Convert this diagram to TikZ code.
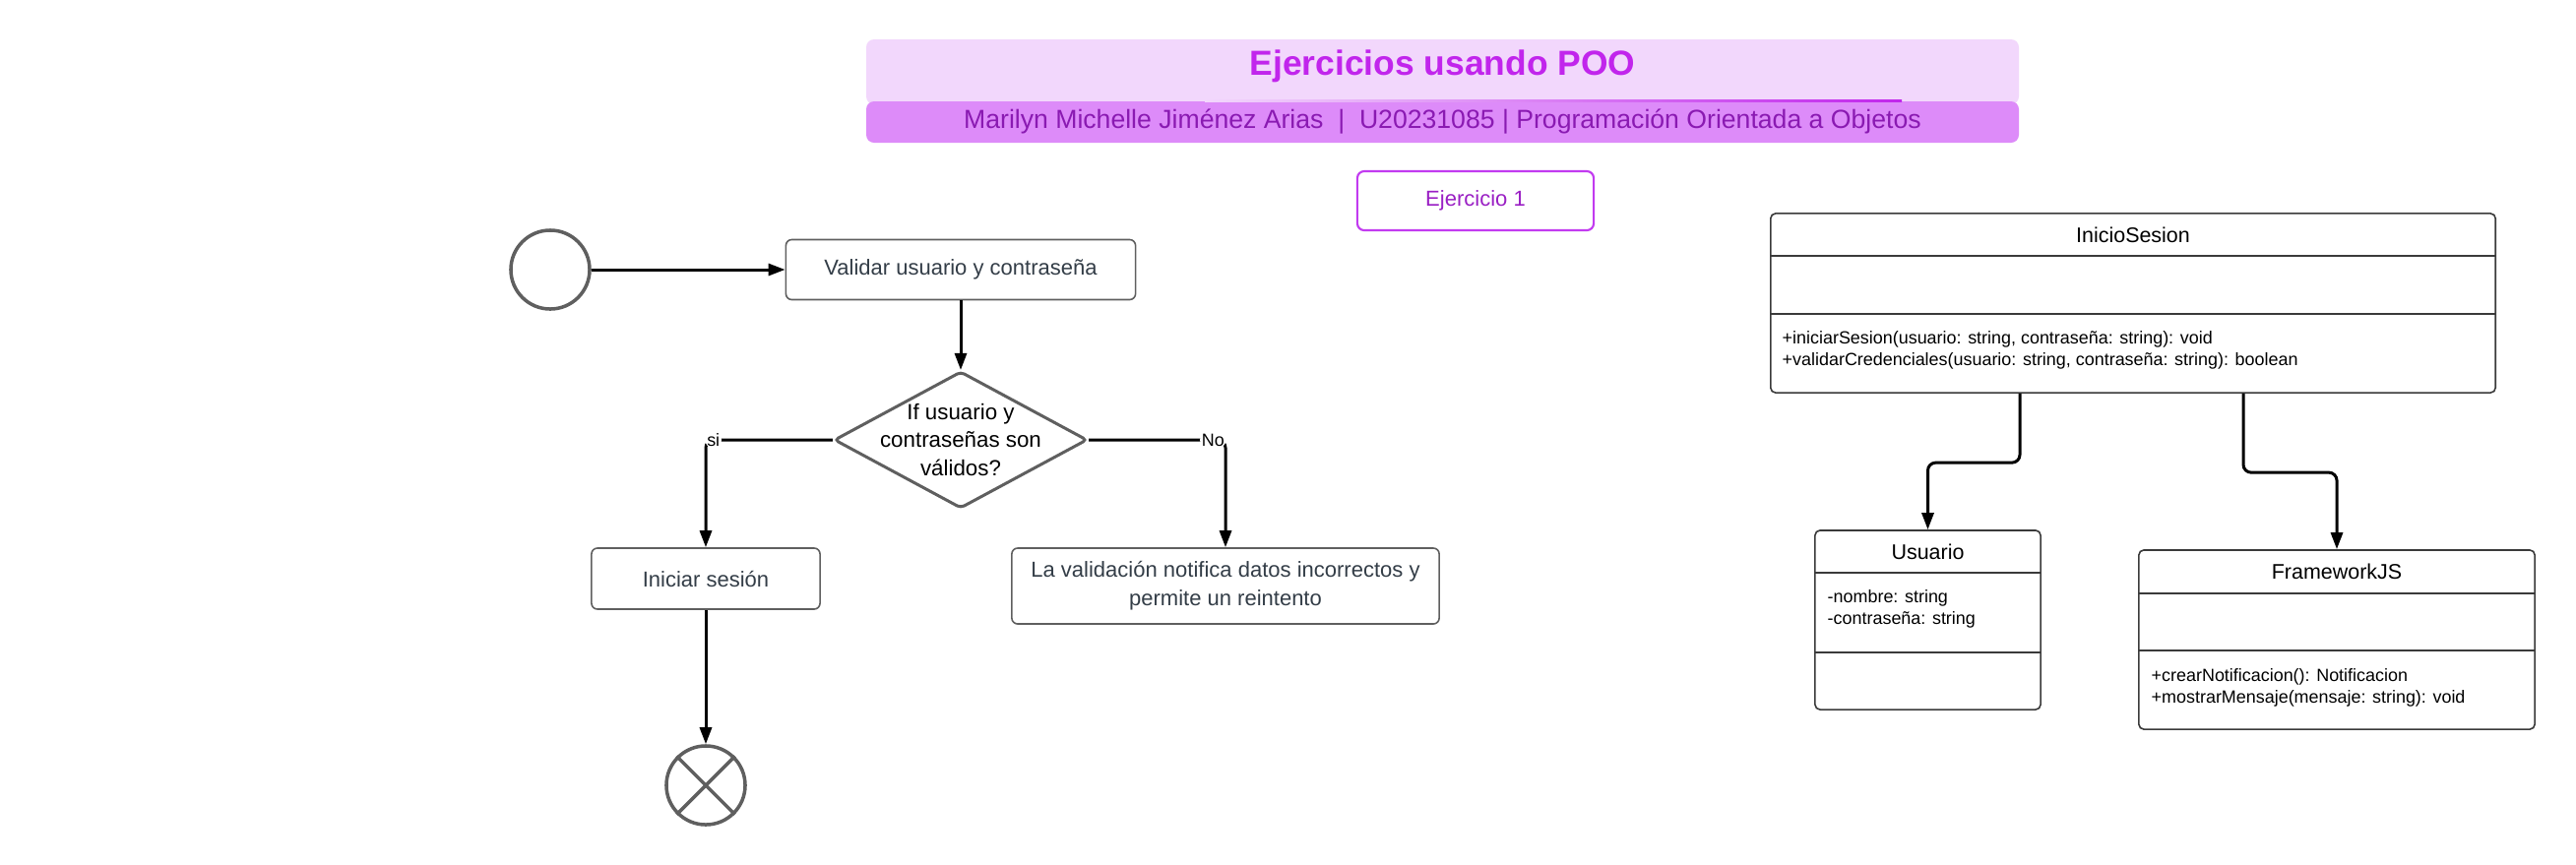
\documentclass[tikz,border=0pt]{standalone}
\usepackage{fontspec}
\setmainfont{Liberation Sans}
\usetikzlibrary{shapes.geometric,arrows.meta,calc}
\definecolor{bannerlight}{HTML}{F2D7FC}
\definecolor{bannerdark}{HTML}{DD8BF9}
\definecolor{titlecol}{HTML}{C125EC}
\definecolor{subcol}{HTML}{8A1AB2}
\definecolor{exborder}{HTML}{C23BF0}
\definecolor{extext}{HTML}{9A1FC4}
\definecolor{boxline}{HTML}{5F5F5F}
\definecolor{boxtext}{HTML}{333D47}
\definecolor{umlline}{HTML}{3A3A3A}
\tikzset{
  flowbox/.style={draw=boxline, line width=0.45pt, rounded corners=0.06cm, inner sep=0pt, text=boxtext, font=\fontsize{6.26pt}{8.2pt}\selectfont, align=center},
  umlbox/.style={draw=umlline, line width=0.45pt, rounded corners=0.05cm, inner sep=0pt},
  umlname/.style={font=\fontsize{6.1pt}{7.5pt}\selectfont, text=black},
  umltext/.style={font=\fontsize{5.1pt}{6.3pt}\selectfont, text=black, anchor=west, align=left, inner sep=0pt},
  arr/.style={line width=0.85pt, -{Triangle[length=0.17cm,width=0.12cm]}, rounded corners=0.08cm},
  plainln/.style={line width=0.85pt},
  circ/.style={circle, draw=boxline, line width=1pt, minimum size=0.8cm, inner sep=0pt},
  lab/.style={font=\fontsize{5.1pt}{6pt}\selectfont, fill=white, inner sep=0.5pt, text=black}
}
\begin{document}
\begin{tikzpicture}[x=0.01cm,y=-0.01cm]
\path[use as bounding box, fill=white] (0,0) rectangle (2617,878);

% Banner
\fill[bannerlight, rounded corners=0.08cm] (880,40) rectangle (2051,106);
\fill[bannerdark, rounded corners=0.08cm] (880,103) rectangle (2051,145);
\shade[left color=bannerlight, right color=titlecol] (1224,101) rectangle (1932,103.5);
\node (title) at (1465.5,67) {\fontsize{10.07pt}{12pt}\selectfont\bfseries\color{titlecol}Ejercicios usando POO};
\node (subtitle) at (1465.5,124) {\fontsize{7.57pt}{9pt}\selectfont\color{subcol}Marilyn Michelle Jiménez Arias \ | \ U20231085 | Programación Orientada a Objetos};

% Ejercicio 1
\node[draw=exborder, line width=0.6pt, rounded corners=0.07cm, minimum width=2.4cm, minimum height=0.6cm, inner sep=0pt, text=extext, font=\fontsize{6.26pt}{8pt}\selectfont] (ej) at (1499,204) {Ejercicio 1};

% Flowchart
\node[circ] (start) at (559,274) {};
\node[flowbox, minimum width=3.55cm, minimum height=0.61cm] (validar) at (976,274) {Validar usuario y contraseña};
\node[diamond, draw=boxline, line width=0.85pt, rounded corners=0.04cm, minimum width=2.57cm, minimum height=1.39cm, inner sep=0pt] (dec) at (976,447) {};
\node[align=center, font=\fontsize{6.35pt}{8.2pt}\selectfont, text=black] (dectext) at (976,447) {If usuario y\\contraseñas son\\válidos?};
\node[flowbox, minimum width=2.32cm, minimum height=0.62cm] (iniciar) at (717,588) {Iniciar sesión};
\node[flowbox, minimum width=4.34cm, minimum height=0.77cm] (reint) at (1245,595.5) {La validación notifica datos incorrectos y\\permite un reintento};
\node[circ] (endc) at (717,798) {};
\draw[boxline, line width=1pt] (endc.45) -- (endc.225) (endc.135) -- (endc.315);

\draw[arr] (start.east) -- (validar.west);
\draw[arr] (validar.south) -- (dec.north);
\draw[arr] (dec.west) -| node[lab, pos=0.5, anchor=west, xshift=-0.02cm] (si) {si} (iniciar.north);
\draw[arr] (dec.east) -| node[lab, pos=0.5, anchor=east, xshift=0.02cm] (no) {No} (reint.north);
\draw[arr] (iniciar.south) -- (endc.north);

% UML: InicioSesion
\node[umlbox, minimum width=7.36cm, minimum height=1.82cm] (ini) at (2167,308) {};
\draw[umlline, line width=0.45pt] (1799,260) -- (2535,260) (1799,319) -- (2535,319);
\node[umlname] (ininame) at (2167,238.5) {InicioSesion};
\node[umltext] (inimeth) at (1810,356) {+iniciarSesion(usuario: string, contraseña: string): void\\+validarCredenciales(usuario: string, contraseña: string): boolean};

% UML: Usuario
\node[umlbox, minimum width=2.29cm, minimum height=1.82cm] (usu) at (1958.5,630) {};
\draw[umlline, line width=0.45pt] (1844,582) -- (2073,582) (1844,663) -- (2073,663);
\node[umlname] (usuname) at (1958.5,560.5) {Usuario};
\node[umltext] (usuattr) at (1856,619) {-nombre: string\\-contraseña: string};

% UML: FrameworkJS
\node[umlbox, minimum width=4.02cm, minimum height=1.82cm] (fw) at (2374,650) {};
\draw[umlline, line width=0.45pt] (2173,603) -- (2575,603) (2173,661) -- (2575,661);
\node[umlname] (fwname) at (2374,581) {FrameworkJS};
\node[umltext] (fwmeth) at (2185,698.5) {+crearNotificacion(): Notificacion\\+mostrarMensaje(mensaje: string): void};

\draw[arr] ($(ini.south west)+(254,0)$) |- ($(usu.north)+(0,-68)$) -- (usu.north);
\draw[arr] ($(ini.south west)+(481,0)$) |- ($(fw.north)+(0,-78)$) -- (fw.north);
\end{tikzpicture}
\end{document}
